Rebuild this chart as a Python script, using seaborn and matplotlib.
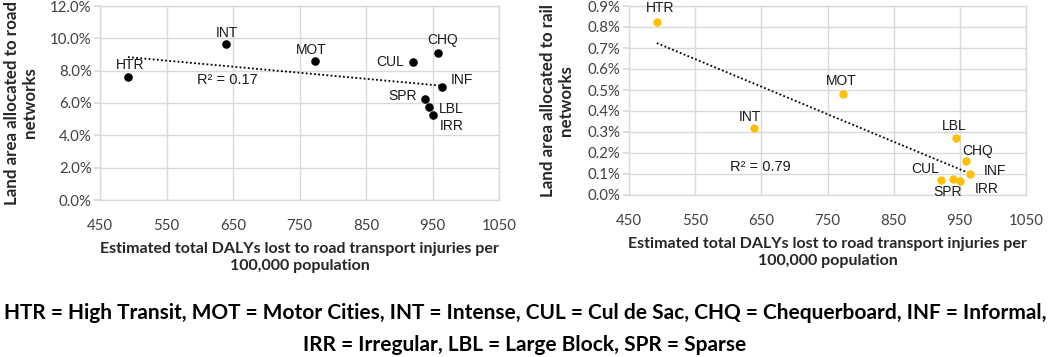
import numpy as np
import pandas as pd
import matplotlib
matplotlib.use('Agg')
import matplotlib.pyplot as plt
import seaborn as sns
from matplotlib.ticker import PercentFormatter

# city typologies
codes = ['HTR', 'INT', 'MOT', 'CUL', 'SPR', 'LBL', 'IRR', 'CHQ', 'INF']
dalys = [492, 639, 773, 921, 939, 944, 951, 959, 965]
road_share = [7.59, 9.65, 8.60, 8.54, 6.23, 5.77, 5.24, 9.11, 6.99]
rail_share = [0.822, 0.321, 0.483, 0.071, 0.075, 0.273, 0.068, 0.160, 0.098]
r2_labels = ['R² = 0.17', 'R² = 0.79']

# label offsets in pixels (dx, dy, ha)
road_offsets = {'HTR': (2, 12, 'center'), 'INT': (1, 11, 'center'), 'MOT': (-4, 11, 'center'),
                'CUL': (-9, 0, 'right'), 'CHQ': (4, 13, 'center'), 'INF': (19, 7, 'center'),
                'SPR': (-8, 3, 'right'), 'LBL': (23, -2, 'center'), 'IRR': (19, -11, 'center')}
rail_offsets = {'HTR': (3, 14, 'center'), 'INT': (-4, 11, 'center'), 'MOT': (-1, 13, 'center'),
                'LBL': (-2, 12, 'center'), 'CHQ': (12, 10, 'center'), 'INF': (25, 3, 'center'),
                'CUL': (-2, 11, 'right'), 'SPR': (-5, -13, 'center'), 'IRR': (26, -8, 'center')}

df = pd.DataFrame({'code': codes, 'dalys': dalys, 'road': road_share, 'rail': rail_share})

sns.set_theme(style='whitegrid')
plt.rcParams['font.family'] = ['Liberation Sans', 'DejaVu Sans']

fig = plt.figure(figsize=(10.5, 3.57), dpi=100)
ax1 = fig.add_axes([100/1050, 1-200/357, 399/1050, 194/357])
ax2 = fig.add_axes([629/1050, 1-195/357, 397/1050, 189/357])

tick_font = {'family': ['Lato', 'DejaVu Sans'], 'size': 10.8, 'color': '#404040'}
xtitle_font = {'family': ['Lato', 'DejaVu Sans'], 'size': 11.5, 'weight': 'bold', 'color': '#262626'}
ytitle_font = {'family': ['Lato', 'DejaVu Sans'], 'size': 12.2, 'weight': 'bold', 'color': '#262626'}


def draw(ax, col, color, size, offsets, ymax, ystep, r2, r2_pos):
    sns.regplot(data=df, x='dalys', y=col, ax=ax, scatter=False, ci=None, truncate=True,
                line_kws={'color': 'black', 'linestyle': (0, (1, 1.3)), 'linewidth': 1.3})
    sns.scatterplot(data=df, x='dalys', y=col, ax=ax, color=color, s=size, edgecolor=color,
                    linewidth=0, zorder=5)
    for _, r in df.iterrows():
        dx, dy, ha = offsets[r['code']]
        ax.annotate(r['code'], (r['dalys'], r[col]), xytext=(dx, dy), textcoords='offset pixels',
                    ha=ha, va='center', fontsize=10, color='#1a1a1a')
    ax.text(r2_pos[0], r2_pos[1], r2, ha='center', va='center', fontsize=10.5, color='#1a1a1a')
    ax.set_xlim(450, 1050)
    ax.set_ylim(0, ymax)
    ax.set_xticks(np.arange(450, 1051, 100))
    ax.set_yticks(np.arange(0, ymax + ystep / 2, ystep))
    ax.yaxis.set_major_formatter(PercentFormatter(decimals=1))
    for lab in ax.get_xticklabels() + ax.get_yticklabels():
        lab.set_fontfamily(tick_font['family'])
        lab.set_fontsize(tick_font['size'])
        lab.set_color(tick_font['color'])
    ax.grid(True, color='#d9d9d9', linewidth=1)
    for s in ax.spines.values():
        s.set_color('#d9d9d9')
        s.set_linewidth(1)
    ax.tick_params(axis='y', left=True, length=4, color='#d9d9d9', pad=2)
    ax.tick_params(axis='x', bottom=False, pad=8)
    ax.set_xlabel('Estimated total DALYs lost to road transport injuries per\n100,000 population',
                  fontdict=xtitle_font, labelpad=6, linespacing=1.3)


draw(ax1, 'road', 'black', 38, road_offsets, 12, 2, r2_labels[0], (642, 7.42))
ax1.set_ylabel('Land area allocated to road\nnetworks', fontdict=ytitle_font, labelpad=9,
               linespacing=1.15)
draw(ax2, 'rail', '#FFC000', 36, rail_offsets, 0.9, 0.1, r2_labels[1], (649, 0.135))
ax2.set_ylabel('Land area allocated to rail\nnetworks', fontdict=ytitle_font, labelpad=10,
               linespacing=1.15)

caption = ('HTR = High Transit, MOT = Motor Cities, INT = Intense, CUL = Cul de Sac, '
           'CHQ = Chequerboard, INF = Informal,\nIRR = Irregular, LBL = Large Block, SPR = Sparse')
fig.text(0.5, 1 - 329/357, caption, ha='center', va='center', fontsize=15, weight='bold',
         family=['Lato', 'DejaVu Sans'], linespacing=1.75, color='black')

fig.savefig('out.png', dpi=100)
